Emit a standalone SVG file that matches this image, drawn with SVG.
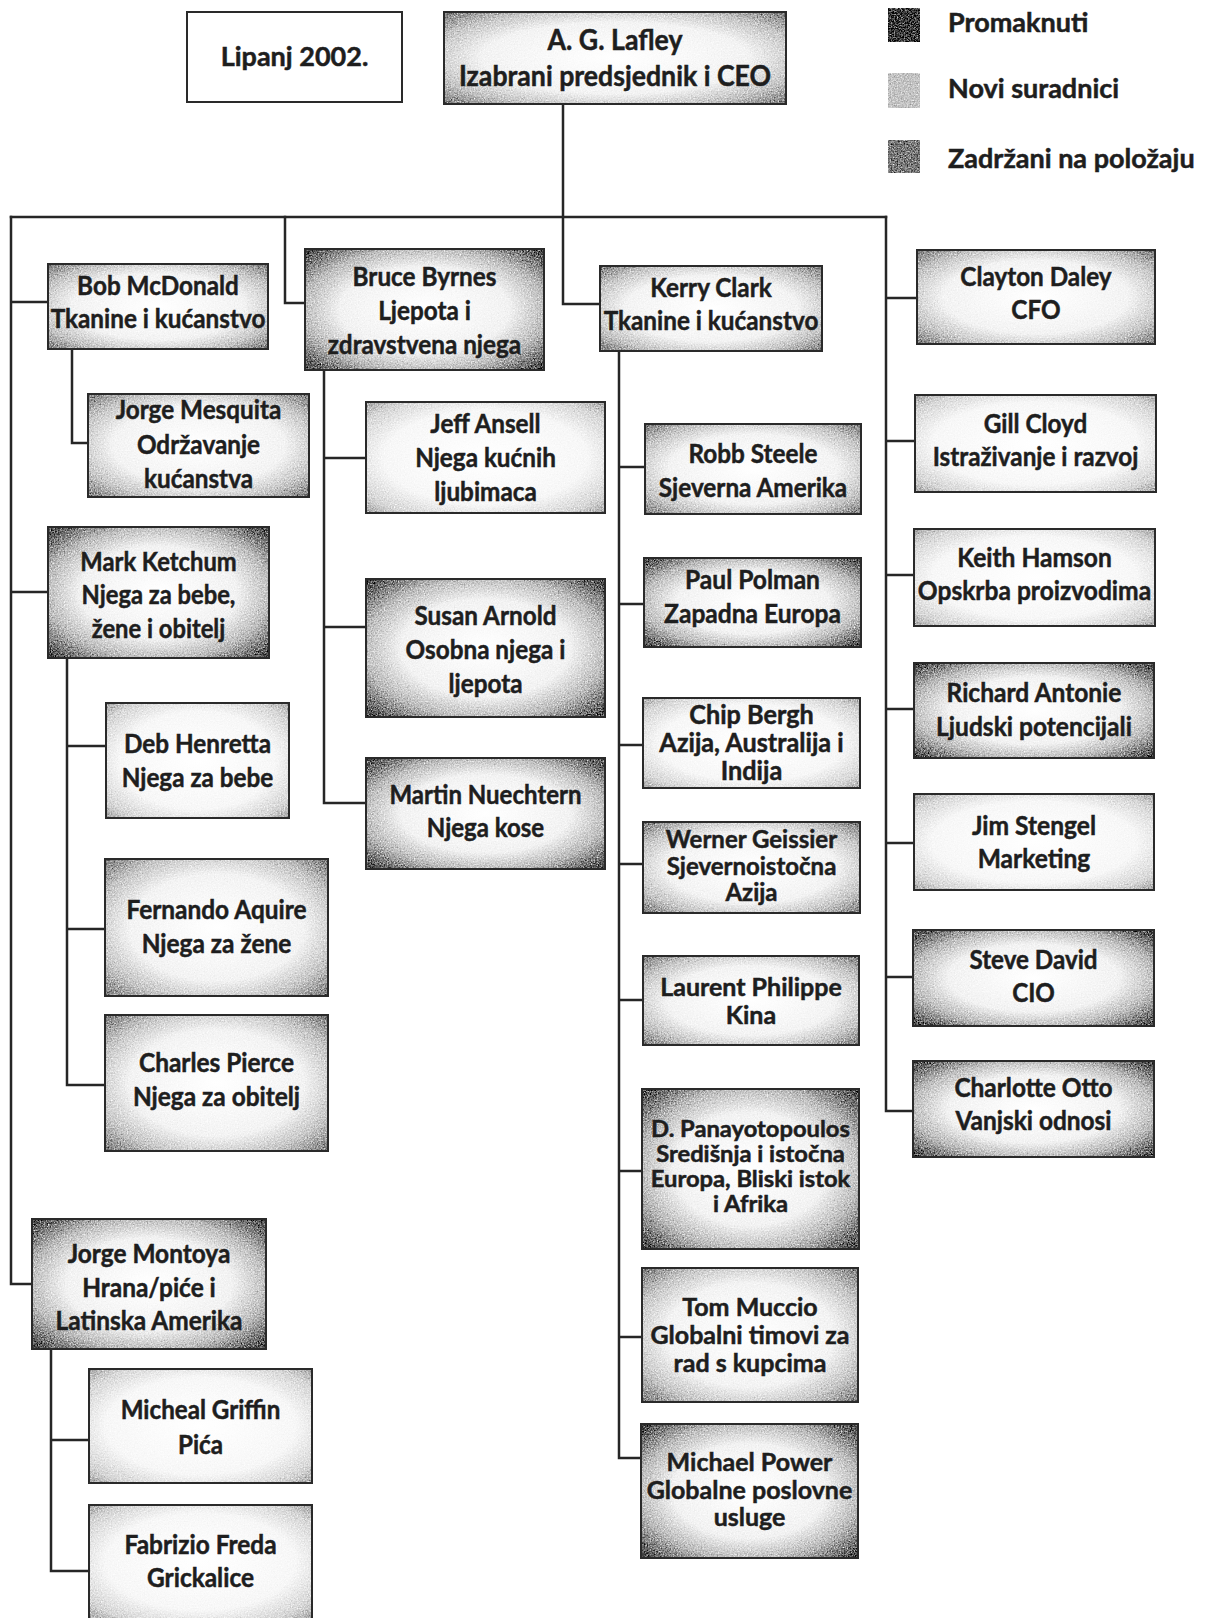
<svg xmlns="http://www.w3.org/2000/svg" width="1210" height="1618" viewBox="0 0 1210 1618">
<style>
.ln{stroke:#262626;stroke-width:2.5;fill:none;stroke-linecap:square}
.bx{fill:none;stroke:#2a2a2a;stroke-width:2}
.t{font-family:Lato,"Open Sans","DejaVu Sans",sans-serif;font-weight:700;font-size:27px;fill:#1e1e1e;stroke:#1e1e1e;stroke-width:0.5px;text-anchor:middle}
.s29{font-size:29px}.s26{font-size:26px}.s25{font-size:25px}.s24{font-size:24px}.s22{font-size:22px}
.lg{font-family:Lato,"Open Sans","DejaVu Sans",sans-serif;font-weight:700;font-size:27px;fill:#1e1e1e;stroke:#1e1e1e;stroke-width:0.5px}
.dk{fill:url(#gDark)}.md{fill:url(#gMid)}.lt{fill:url(#gLight)}
</style>
<defs>
<radialGradient id="gDark" cx="0.5" cy="0.5" r="0.71">
<stop offset="0" stop-color="#ffffff"/><stop offset="0.5" stop-color="#f2f2f2"/><stop offset="0.72" stop-color="#bdbdbd"/><stop offset="0.9" stop-color="#6a6a6a"/><stop offset="1" stop-color="#3c3c3c"/>
</radialGradient>
<radialGradient id="gMid" cx="0.5" cy="0.5" r="0.71">
<stop offset="0" stop-color="#ffffff"/><stop offset="0.55" stop-color="#f3f3f3"/><stop offset="0.78" stop-color="#c6c6c6"/><stop offset="0.95" stop-color="#8a8a8a"/><stop offset="1" stop-color="#6a6a6a"/>
</radialGradient>
<radialGradient id="gLight" cx="0.5" cy="0.5" r="0.71">
<stop offset="0" stop-color="#ffffff"/><stop offset="0.6" stop-color="#f7f7f7"/><stop offset="0.85" stop-color="#d6d6d6"/><stop offset="1" stop-color="#a3a3a3"/>
</radialGradient>
<filter id="grain" x="0" y="0" width="1" height="1" color-interpolation-filters="sRGB">
<feTurbulence type="fractalNoise" baseFrequency="0.7" numOctaves="2" seed="7" result="noise"/>
<feColorMatrix in="noise" type="matrix" values="0.33 0.33 0.33 0 0  0.33 0.33 0.33 0 0  0.33 0.33 0.33 0 0  0 0 0 0 1" result="gn"/>
<feComposite in="SourceGraphic" in2="gn" operator="arithmetic" k1="-4" k2="3" k3="4" k4="-2" result="mix"/>
<feComposite in="mix" in2="SourceGraphic" operator="in"/>
</filter>
</defs>
<rect width="1210" height="1618" fill="#ffffff"/>

<g id="connectors">
<path class="ln" d="M563 104V304H600"/>
<path class="ln" d="M11 217H886"/>
<path class="ln" d="M11 217V1284H32M11 302H48M11 592H48"/>
<path class="ln" d="M285 217V303H305"/>
<path class="ln" d="M886 217V1111H913M886 298H917M886 441H915M886 575H914M886 709H914M886 843H914M886 977H913"/>
<path class="ln" d="M72 349V443H88"/>
<path class="ln" d="M324 370V803H366M324 458H366M324 627H366"/>
<path class="ln" d="M67 658V1085H105M67 746H106M67 929H105"/>
<path class="ln" d="M51 1349V1571H89M51 1440H89"/>
<path class="ln" d="M619 351V1458H641M619 467H645M619 604H644M619 745H643M619 864H643M619 1000H643M619 1171H642M619 1337H642"/>
</g>

<g id="legend">
<rect x="888" y="8" width="32" height="34" fill="#3a3a3a" filter="url(#grain)"/>
<rect x="888" y="73" width="32" height="35" fill="#c4c4c4" filter="url(#grain)"/>
<rect x="888" y="140" width="32" height="33" fill="#7a7a7a" filter="url(#grain)"/>
<text class="lg" x="948" y="32">Promaknuti</text>
<text class="lg" x="948" y="98">Novi suradnici</text>
<text class="lg" x="948" y="168">Zadržani na položaju</text>
</g>

<g id="n-lipanj">
<rect class="bx" x="187" y="12" width="215" height="90" fill="#fff"/>
<text class="t" x="294.5" y="66">Lipanj 2002.</text>
</g>

<g id="n-lafley">
<rect class="md" x="444" y="12" width="342" height="92" filter="url(#grain)"/><rect class="bx" x="444" y="12" width="342" height="92"/>
<g transform="translate(615 0) scale(0.92 1)"><text class="t s29"><tspan x="0" y="50">A. G. Lafley</tspan><tspan x="0" y="86">Izabrani predsjednik i CEO</tspan></text></g>
</g>

<g id="n-bob">
<rect class="md" x="48" y="264" width="220" height="85" filter="url(#grain)"/><rect class="bx" x="48" y="264" width="220" height="85"/>
<g transform="translate(158 0) scale(0.9 1)"><text class="t"><tspan x="0" y="295">Bob McDonald</tspan><tspan x="0" y="328">Tkanine i kućanstvo</tspan></text></g>
</g>

<g id="n-bruce">
<rect class="dk" x="305" y="249" width="239" height="121" filter="url(#grain)"/><rect class="bx" x="305" y="249" width="239" height="121"/>
<g transform="translate(424.5 0) scale(0.9 1)"><text class="t"><tspan x="0" y="286">Bruce Byrnes</tspan><tspan x="0" y="320">Ljepota i</tspan><tspan x="0" y="354">zdravstvena njega</tspan></text></g>
</g>

<g id="n-kerry">
<rect class="md" x="600" y="266" width="222" height="85" filter="url(#grain)"/><rect class="bx" x="600" y="266" width="222" height="85"/>
<g transform="translate(711 0) scale(0.9 1)"><text class="t"><tspan x="0" y="297">Kerry Clark</tspan><tspan x="0" y="330">Tkanine i kućanstvo</tspan></text></g>
</g>

<g id="n-clayton">
<rect class="md" x="917" y="250" width="238" height="94" filter="url(#grain)"/><rect class="bx" x="917" y="250" width="238" height="94"/>
<g transform="translate(1036 0) scale(0.9 1)"><text class="t"><tspan x="0" y="286">Clayton Daley</tspan><tspan x="0" y="319">CFO</tspan></text></g>
</g>

<g id="n-mesquita">
<rect class="md" x="88" y="394" width="221" height="103" filter="url(#grain)"/><rect class="bx" x="88" y="394" width="221" height="103"/>
<g transform="translate(198.5 0) scale(0.9 1)"><text class="t"><tspan x="0" y="419">Jorge Mesquita</tspan><tspan x="0" y="454">Održavanje</tspan><tspan x="0" y="488">kućanstva</tspan></text></g>
</g>

<g id="n-ansell">
<rect class="lt" x="366" y="402" width="239" height="111" filter="url(#grain)"/><rect class="bx" x="366" y="402" width="239" height="111"/>
<g transform="translate(485.5 0) scale(0.9 1)"><text class="t"><tspan x="0" y="433">Jeff Ansell</tspan><tspan x="0" y="467">Njega kućnih</tspan><tspan x="0" y="501">ljubimaca</tspan></text></g>
</g>

<g id="n-ketchum">
<rect class="dk" x="48" y="527" width="221" height="131" filter="url(#grain)"/><rect class="bx" x="48" y="527" width="221" height="131"/>
<g transform="translate(158.5 0) scale(0.88 1)"><text class="t"><tspan x="0" y="571">Mark Ketchum</tspan><tspan x="0" y="604">Njega za bebe,</tspan><tspan x="0" y="638">žene i obitelj</tspan></text></g>
</g>

<g id="n-arnold">
<rect class="dk" x="366" y="579" width="239" height="138" filter="url(#grain)"/><rect class="bx" x="366" y="579" width="239" height="138"/>
<g transform="translate(485.5 0) scale(0.9 1)"><text class="t"><tspan x="0" y="625">Susan Arnold</tspan><tspan x="0" y="659">Osobna njega i</tspan><tspan x="0" y="693">ljepota</tspan></text></g>
</g>

<g id="n-henretta">
<rect class="lt" x="106" y="703" width="183" height="115" filter="url(#grain)"/><rect class="bx" x="106" y="703" width="183" height="115"/>
<g transform="translate(197.5 0) scale(0.9 1)"><text class="t"><tspan x="0" y="753">Deb Henretta</tspan><tspan x="0" y="787">Njega za bebe</tspan></text></g>
</g>

<g id="n-nuechtern">
<rect class="dk" x="366" y="758" width="239" height="111" filter="url(#grain)"/><rect class="bx" x="366" y="758" width="239" height="111"/>
<g transform="translate(485.5 0) scale(0.89 1)"><text class="t"><tspan x="0" y="804">Martin Nuechtern</tspan><tspan x="0" y="837">Njega kose</tspan></text></g>
</g>

<g id="n-aquire">
<rect class="md" x="105" y="859" width="223" height="137" filter="url(#grain)"/><rect class="bx" x="105" y="859" width="223" height="137"/>
<g transform="translate(216.5 0) scale(0.94 1)"><text class="t s26"><tspan x="0" y="919">Fernando Aquire</tspan><tspan x="0" y="953">Njega za žene</tspan></text></g>
</g>

<g id="n-pierce">
<rect class="md" x="105" y="1015" width="223" height="136" filter="url(#grain)"/><rect class="bx" x="105" y="1015" width="223" height="136"/>
<g transform="translate(216.5 0) scale(0.94 1)"><text class="t s26"><tspan x="0" y="1072">Charles Pierce</tspan><tspan x="0" y="1106">Njega za obitelj</tspan></text></g>
</g>

<g id="n-montoya">
<rect class="dk" x="32" y="1219" width="234" height="130" filter="url(#grain)"/><rect class="bx" x="32" y="1219" width="234" height="130"/>
<g transform="translate(149 0) scale(0.94 1)"><text class="t s26"><tspan x="0" y="1263">Jorge Montoya</tspan><tspan x="0" y="1297">Hrana/piće i</tspan><tspan x="0" y="1330">Latinska Amerika</tspan></text></g>
</g>

<g id="n-griffin">
<rect class="lt" x="89" y="1369" width="223" height="114" filter="url(#grain)"/><rect class="bx" x="89" y="1369" width="223" height="114"/>
<g transform="translate(200.5 0) scale(0.93 1)"><text class="t s26"><tspan x="0" y="1419">Micheal Griffin</tspan><tspan x="0" y="1454">Pića</tspan></text></g>
</g>

<g id="n-freda">
<rect class="lt" x="89" y="1505" width="223" height="114" filter="url(#grain)"/><rect class="bx" x="89" y="1505" width="223" height="114"/>
<g transform="translate(200.5 0) scale(0.94 1)"><text class="t s26"><tspan x="0" y="1554">Fabrizio Freda</tspan><tspan x="0" y="1587">Grickalice</tspan></text></g>
</g>

<g id="n-steele">
<rect class="md" x="645" y="424" width="216" height="90" filter="url(#grain)"/><rect class="bx" x="645" y="424" width="216" height="90"/>
<g transform="translate(753 0) scale(0.9 1)"><text class="t"><tspan x="0" y="463">Robb Steele</tspan><tspan x="0" y="497">Sjeverna Amerika</tspan></text></g>
</g>

<g id="n-polman">
<rect class="dk" x="644" y="558" width="217" height="89" filter="url(#grain)"/><rect class="bx" x="644" y="558" width="217" height="89"/>
<g transform="translate(752.5 0) scale(0.91 1)"><text class="t"><tspan x="0" y="589">Paul Polman</tspan><tspan x="0" y="623">Zapadna Europa</tspan></text></g>
</g>

<g id="n-bergh">
<rect class="lt" x="643" y="698" width="217" height="90" filter="url(#grain)"/><rect class="bx" x="643" y="698" width="217" height="90"/>
<g transform="translate(751.5 0) scale(0.97 1)"><text class="t s26"><tspan x="0" y="724">Chip Bergh</tspan><tspan x="0" y="752">Azija, Australija i</tspan><tspan x="0" y="780">Indija</tspan></text></g>
</g>

<g id="n-geissier">
<rect class="md" x="643" y="822" width="217" height="91" filter="url(#grain)"/><rect class="bx" x="643" y="822" width="217" height="91"/>
<text class="t s24" x="751.5"><tspan x="751.5" y="848">Werner Geissier</tspan><tspan x="751.5" y="875">Sjevernoistočna</tspan><tspan x="751.5" y="901">Azija</tspan></text>
</g>

<g id="n-philippe">
<rect class="md" x="643" y="956" width="216" height="89" filter="url(#grain)"/><rect class="bx" x="643" y="956" width="216" height="89"/>
<text class="t s25" x="751"><tspan x="751" y="996">Laurent Philippe</tspan><tspan x="751" y="1024">Kina</tspan></text>
</g>

<g id="n-panayotopoulos">
<rect class="dk" x="642" y="1089" width="217" height="160" filter="url(#grain)"/><rect class="bx" x="642" y="1089" width="217" height="160"/>
<g transform="translate(750.5 0) scale(1.08 1)"><text class="t s22"><tspan x="0" y="1137">D. Panayotopoulos</tspan><tspan x="0" y="1162">Središnja i istočna</tspan><tspan x="0" y="1187">Europa, Bliski istok</tspan><tspan x="0" y="1212">i Afrika</tspan></text></g>
</g>

<g id="n-muccio">
<rect class="md" x="642" y="1268" width="216" height="134" filter="url(#grain)"/><rect class="bx" x="642" y="1268" width="216" height="134"/>
<text class="t s25" x="750"><tspan x="750" y="1316">Tom Muccio</tspan><tspan x="750" y="1344">Globalni timovi za</tspan><tspan x="750" y="1372">rad s kupcima</tspan></text>
</g>

<g id="n-power">
<rect class="dk" x="641" y="1424" width="217" height="134" filter="url(#grain)"/><rect class="bx" x="641" y="1424" width="217" height="134"/>
<text class="t s25" x="749.5"><tspan x="749.5" y="1471">Michael Power</tspan><tspan x="749.5" y="1499">Globalne poslovne</tspan><tspan x="749.5" y="1526">usluge</tspan></text>
</g>

<g id="n-cloyd">
<rect class="lt" x="915" y="395" width="241" height="97" filter="url(#grain)"/><rect class="bx" x="915" y="395" width="241" height="97"/>
<g transform="translate(1035.5 0) scale(0.9 1)"><text class="t"><tspan x="0" y="433">Gill Cloyd</tspan><tspan x="0" y="466">Istraživanje i razvoj</tspan></text></g>
</g>

<g id="n-hamson">
<rect class="lt" x="914" y="529" width="241" height="97" filter="url(#grain)"/><rect class="bx" x="914" y="529" width="241" height="97"/>
<g transform="translate(1034.5 0) scale(0.91 1)"><text class="t"><tspan x="0" y="567">Keith Hamson</tspan><tspan x="0" y="600">Opskrba proizvodima</tspan></text></g>
</g>

<g id="n-antonie">
<rect class="dk" x="914" y="663" width="240" height="95" filter="url(#grain)"/><rect class="bx" x="914" y="663" width="240" height="95"/>
<g transform="translate(1034 0) scale(0.91 1)"><text class="t"><tspan x="0" y="702">Richard Antonie</tspan><tspan x="0" y="736">Ljudski potencijali</tspan></text></g>
</g>

<g id="n-stengel">
<rect class="lt" x="914" y="794" width="240" height="96" filter="url(#grain)"/><rect class="bx" x="914" y="794" width="240" height="96"/>
<g transform="translate(1034 0) scale(0.91 1)"><text class="t"><tspan x="0" y="835">Jim Stengel</tspan><tspan x="0" y="868">Marketing</tspan></text></g>
</g>

<g id="n-david">
<rect class="dk" x="913" y="930" width="241" height="96" filter="url(#grain)"/><rect class="bx" x="913" y="930" width="241" height="96"/>
<g transform="translate(1033.5 0) scale(0.93 1)"><text class="t s26"><tspan x="0" y="969">Steve David</tspan><tspan x="0" y="1002">CIO</tspan></text></g>
</g>

<g id="n-otto">
<rect class="dk" x="913" y="1061" width="241" height="96" filter="url(#grain)"/><rect class="bx" x="913" y="1061" width="241" height="96"/>
<g transform="translate(1033.5 0) scale(0.94 1)"><text class="t s26"><tspan x="0" y="1097">Charlotte Otto</tspan><tspan x="0" y="1130">Vanjski odnosi</tspan></text></g>
</g>
</svg>
